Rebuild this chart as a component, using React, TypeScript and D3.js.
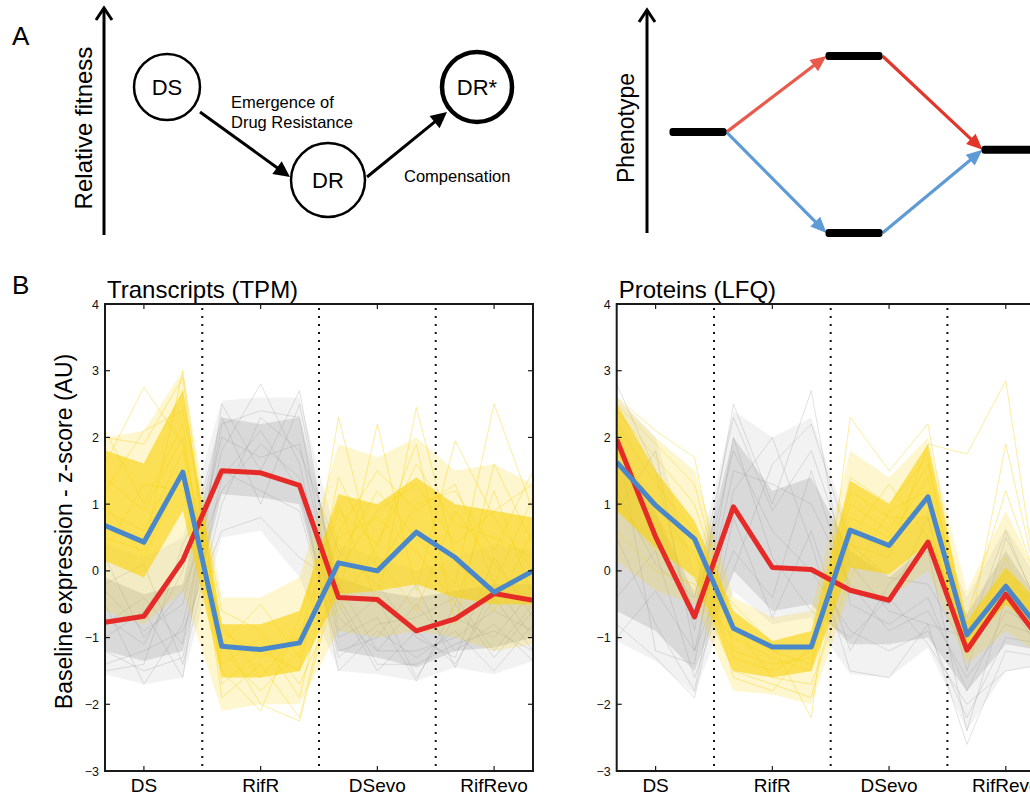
import React from 'react';
import * as d3 from 'd3';

// ---- panel B data (z-scores, 4 conditions x 3 replicates) ----
const conditions = ['DS', 'RifR', 'DSevo', 'RifRevo'];
const yTicks = [-3, -2, -1, 0, 1, 2, 3, 4];

// cluster means
const tpmRed = [-0.77, -0.68, 0.16, 1.5, 1.47, 1.28, -0.4, -0.43, -0.9, -0.72, -0.34, -0.44];
const tpmBlue = [0.68, 0.43, 1.48, -1.13, -1.18, -1.08, 0.12, 0.0, 0.58, 0.2, -0.32, 0.0];
const lfqRed = [1.97, 0.51, -0.69, 0.96, 0.05, 0.02, -0.29, -0.44, 0.43, -1.19, -0.35, -1.13];
const lfqBlue = [1.63, 0.98, 0.48, -0.86, -1.14, -1.14, 0.61, 0.38, 1.11, -0.96, -0.23, -0.97];

// spread of the individual profiles: [outer low, core low, core high, outer high]
const tpmYellowBand = [
  [-0.6, -0.8, -0.3, -2.1, -2.0, -2.0, -0.9, -1.0, -0.9, -1.0, -1.2, -1.1],
  [0.15, -0.1, 0.9, -1.6, -1.6, -1.5, -0.35, -0.3, -0.2, -0.4, -0.5, -0.5],
  [1.8, 1.6, 2.7, -0.8, -0.8, -0.6, 1.15, 1.0, 1.4, 1.0, 0.9, 0.8],
  [2.0, 2.1, 3.0, -0.4, -0.4, -0.1, 1.9, 1.7, 2.0, 1.5, 1.6, 1.3],
];
const tpmGrayBand = [
  [-1.55, -1.7, -1.6, 0.5, 0.6, -0.1, -1.5, -1.55, -1.65, -1.45, -1.55, -1.35],
  [-1.2, -1.35, -1.2, 1.15, 1.1, 1.0, -1.2, -1.3, -1.45, -1.2, -1.15, -1.0],
  [-0.1, -0.35, -0.2, 2.3, 2.2, 2.3, -0.1, -0.3, -0.4, -0.3, -0.2, -0.2],
  [0.4, 0.2, 0.5, 2.55, 2.6, 2.6, 0.4, 0.2, 0.0, 0.2, 0.4, 0.3],
];
const lfqYellowBand = [
  [0.15, -0.3, -0.5, -1.8, -1.85, -2.0, -0.3, -0.4, 0.0, -1.4, -0.9, -1.3],
  [0.9, 0.35, -0.1, -1.5, -1.6, -1.5, 0.05, -0.05, 0.4, -1.15, -0.5, -1.0],
  [2.5, 1.5, 0.75, -0.6, -1.05, -0.9, 1.35, 1.0, 1.9, -0.75, 0.05, -0.55],
  [2.6, 2.0, 1.5, -0.4, -0.7, -0.6, 1.8, 1.4, 2.0, -0.3, 0.9, -0.3],
];
const lfqGrayBand = [
  [-1.05, -1.35, -1.85, -0.3, -0.8, -0.7, -1.55, -1.6, -1.15, -2.4, -1.5, -1.4],
  [-0.6, -0.9, -1.5, 0.0, -0.6, -0.5, -1.1, -1.1, -1.0, -1.8, -1.1, -1.2],
  [1.6, 0.9, -0.35, 2.0, 1.2, 1.4, 0.3, -0.1, 0.4, -0.65, 0.3, -0.6],
  [2.6, 2.0, 0.0, 2.4, 2.0, 2.3, 0.6, 0.4, 0.9, -0.4, 0.65, -0.3],
];

// single profiles traced from the bundles
const tpmYellowLines = [
  [1.6, 2.75, 1.9, -0.9, -1.3, -1.0, 0.9, 0.4, 1.6, 0.7, 0.5, 0.2],
  [2.1, 1.0, 2.2, -1.9, -1.4, -2.2, 0.2, 1.2, 0.5, -0.2, 2.5, 0.9],
  [0.5, 0.3, 3.0, -1.2, -1.8, -1.2, 2.3, 0.0, 1.0, 1.2, 0.3, 1.5],
  [1.2, 2.1, 2.4, -0.6, -0.9, -1.7, -0.4, 2.2, -0.3, 1.95, 0.8, 0.0],
  [0.9, 0.6, 1.8, -1.5, -2.1, -0.7, 1.0, -0.5, 2.45, 0.2, -0.6, 0.6],
  [1.8, 1.6, 2.7, -1.1, -0.5, -1.3, 0.5, 0.8, 0.3, -0.5, 1.2, -0.4],
  [1.4, 0.9, 2.0, -1.4, -1.0, -1.9, 0.6, 1.5, 0.9, 1.3, -0.2, 1.1],
  [0.3, 1.3, 1.2, -0.8, -1.6, -0.9, -0.6, 0.4, 1.9, -0.8, 1.6, 0.4],
  [2.0, 1.9, 2.9, -1.7, -1.2, -1.5, 1.4, 0.2, -0.6, 0.9, 0.1, -0.6],
  [1.0, 0.2, 1.5, -1.0, -2.0, -2.25, 0.0, 0.9, 1.3, 0.4, 0.9, 1.3],
];
const tpmGrayLines = [
  [-0.5, -1.7, -0.8, 1.8, 2.8, 1.6, -1.0, -0.7, -1.65, -0.5, -1.3, -0.6],
  [-1.0, -0.6, -1.6, 2.5, 1.5, 2.7, -0.5, -1.5, -0.9, -1.4, -0.4, -1.2],
  [0.2, -1.0, -0.3, 1.2, 1.9, 1.4, -1.5, -0.9, -1.3, -0.9, -1.5, -0.8],
  [-1.4, -1.2, -0.9, 0.6, 0.8, 0.2, -0.2, -1.2, -0.5, -1.2, -0.8, -1.35],
  [-0.8, -0.4, -1.1, 2.2, 2.4, 2.3, -0.9, -0.4, -1.6, -0.7, -1.0, -0.3],
  [-1.5, -1.4, 0.4, 1.5, 1.2, 0.9, -1.2, -1.0, -0.2, -1.45, -0.2, -1.0],
  [-0.3, -0.9, -0.5, 2.0, 1.7, 1.9, -0.7, -1.2, -1.2, -1.0, -0.6, -0.9],
  [-1.2, -1.5, -1.3, 1.4, 2.1, 1.2, -1.3, -0.8, -0.7, -0.4, -1.2, -0.5],
  [-0.7, -1.1, 0.0, 2.3, 1.0, 2.5, -0.4, -1.4, -1.4, -1.1, -0.9, -1.2],
  [-0.2, 0.1, -1.4, 1.0, 2.3, 1.8, 0.3, -0.2, -1.0, -1.3, 0.2, -0.7],
];
const lfqYellowLines = [
  [2.6, 2.1, 1.7, -1.2, -1.4, -1.3, 0.8, 0.5, 1.4, -0.9, 0.0, -0.8],
  [1.8, 1.0, 0.2, -0.5, -1.1, -2.2, 2.3, 1.5, 2.2, -1.1, 1.9, -0.7],
  [2.2, 1.3, 0.6, -1.6, -1.8, -1.1, 0.4, 0.2, 1.9, 1.75, 2.85, -1.0],
  [1.0, 0.3, -0.3, -1.0, -1.3, -1.5, 1.2, 0.8, 0.8, -1.3, -0.3, -1.2],
  [2.4, 1.7, 1.0, -0.8, -1.6, -1.7, -0.1, 0.9, 1.2, -0.8, -0.5, -0.6],
  [1.5, 0.7, 0.3, -1.3, -1.5, -1.2, 1.0, 0.6, 1.6, -1.0, -0.2, -0.9],
  [2.5, 1.9, 1.3, -0.9, -1.2, -1.4, 1.4, 1.0, 1.7, -1.2, 0.2, -1.1],
  [0.6, 0.0, -0.2, -1.5, -1.7, -1.9, 0.5, 1.3, 0.5, -0.7, 1.2, -0.5],
];
const lfqGrayLines = [
  [2.8, 1.5, -0.9, 2.5, 1.0, 2.7, -0.5, -0.8, -0.4, -1.8, -0.6, -0.9],
  [0.5, -0.8, -1.8, 1.2, 2.0, 0.4, -1.5, -1.6, -0.8, -2.6, -1.2, -1.3],
  [-1.0, -0.3, -1.2, 0.3, -0.4, 1.5, -0.3, -0.5, 0.8, -1.5, 0.5, -0.7],
  [1.6, 0.8, -0.6, 1.8, 0.6, 0.0, -0.9, -1.2, -0.9, -2.2, -1.0, -1.1],
  [-0.4, 0.3, -1.6, 0.0, 1.6, 2.2, 0.4, -0.1, -0.2, -1.2, -0.2, -0.5],
  [2.0, -1.2, -1.4, 2.0, 0.2, -0.6, -1.0, -0.4, -1.1, -2.0, -1.5, -1.4],
  [0.9, 1.8, -1.2, 1.5, 1.3, 1.0, -0.2, -0.9, -0.6, -1.6, -0.8, -1.0],
  [-0.8, -1.3, -1.9, 0.8, -0.7, 0.6, -1.2, -0.2, 0.3, -2.4, -0.4, -1.3],
  [1.2, 0.1, -0.4, 2.3, 0.9, 1.8, 0.1, -0.6, -0.8, -1.0, 0.6, -0.8],
];

// ---- panel A schematic ----
const fitnessStates = ['DS', 'DR', 'DR*'];
const fitnessLevels = [1, 0, 1];
const phenotypeStages = ['ancestor', 'mutant', 'compensated'];
const redPath = [0.57, 1, 0.47];
const bluePath = [0.57, 0, 0.47];

const FONT = "'Liberation Sans', Arial, Helvetica, sans-serif";
const YELLOW = '#f8d20c';
const GRAY = '#9c9c9c';
const RED = '#e52a27';
const BLUE = '#4a88c9';

const arrowHead = (x1: number, y1: number, x2: number, y2: number, len: number, half: number) => {
  const a = Math.atan2(y2 - y1, x2 - x1);
  const bx = x2 - len * Math.cos(a);
  const by = y2 - len * Math.sin(a);
  const px = -Math.sin(a) * half;
  const py = Math.cos(a) * half;
  return { d: `M${x2},${y2}L${bx + px},${by + py}L${bx - px},${by - py}Z`, bx: x2 - (len - 1) * Math.cos(a), by: y2 - (len - 1) * Math.sin(a) };
};

const Arrow = ({ x1, y1, x2, y2, color = '#000', width = 3, len = 14, half = 7 }: any) => {
  const h = arrowHead(x1, y1, x2, y2, len, half);
  return (
    <g>
      <line x1={x1} y1={y1} x2={h.bx} y2={h.by} stroke={color} strokeWidth={width} />
      <path d={h.d} fill={color} />
    </g>
  );
};

const AxisArrow = ({ x, top, bottom }: any) => (
  <g stroke="#000" strokeWidth={3} fill="none">
    <line x1={x} y1={bottom} x2={x} y2={top + 1} />
    <polyline points={`${x - 8},${top + 12} ${x},${top} ${x + 8},${top + 12}`} strokeLinejoin="miter" />
  </g>
);

const FitnessDiagram = () => {
  const fx = d3.scaleOrdinal<string, number>().domain(fitnessStates).range([167, 328, 477]);
  const fy = d3.scaleLinear().domain([0, 1]).range([180, 87]);
  const pos = fitnessStates.map((s, i) => ({ s, x: fx(s), y: fy(fitnessLevels[i]) }));
  const [ds, dr, drs] = pos;
  const radius = [33, 37, 35];
  return (
    <g>
      <text x={12} y={45} fontSize={26}>A</text>
      <AxisArrow x={104} top={8} bottom={235} />
      <text transform="translate(92,128) rotate(-90)" textAnchor="middle" fontSize={24}>Relative fitness</text>
      <Arrow x1={ds.x + 33} y1={ds.y + 25} x2={dr.x - 38} y2={dr.y - 3} width={3} len={16} half={8} />
      <Arrow x1={dr.x + 39} y1={dr.y - 3} x2={drs.x - 30} y2={drs.y + 25} width={3} len={16} half={8} />
      {pos.map((p, i) => (
        <g key={p.s}>
          <circle cx={p.x} cy={p.y} r={radius[i]} fill="#fff" stroke="#000" strokeWidth={i === 2 ? 4.5 : 2.5} />
          <text x={p.x} y={p.y + 8} textAnchor="middle" fontSize={22}>{p.s}</text>
        </g>
      ))}
      <text x={231} y={108} fontSize={16.5}>Emergence of</text>
      <text x={231} y={128} fontSize={16.5}>Drug Resistance</text>
      <text x={404} y={182} fontSize={16.5}>Compensation</text>
    </g>
  );
};

const PhenotypeDiagram = () => {
  const px = d3.scalePoint<string>().domain(phenotypeStages).range([698, 1010]);
  const py = d3.scaleLinear().domain([0, 1]).range([233, 56]);
  const half = 28.5;
  const bars = [
    { x: px('ancestor') as number, y: py(redPath[0]) },
    { x: px('mutant') as number, y: py(redPath[1]) },
    { x: px('mutant') as number, y: py(bluePath[1]) },
    { x: px('compensated') as number, y: py(redPath[2]) },
  ];
  const paths = [
    { vals: redPath, colors: ['#ea5a4c', '#e2362a'] },
    { vals: bluePath, colors: ['#5e9bd6', '#5e9bd6'] },
  ];
  return (
    <g>
      <AxisArrow x={647} top={10} bottom={233} />
      <text transform="translate(634,128) rotate(-90)" textAnchor="middle" fontSize={23}>Phenotype</text>
      {paths.map((p, k) =>
        phenotypeStages.slice(0, -1).map((s, i) => (
          <Arrow
            key={`${k}-${i}`}
            x1={(px(s) as number) + half}
            y1={py(p.vals[i])}
            x2={(px(phenotypeStages[i + 1]) as number) - half + 1}
            y2={py(p.vals[i + 1])}
            color={p.colors[i]}
            width={3.2}
            len={16}
            half={7}
          />
        ))
      )}
      {bars.map((b, i) => (
        <rect key={i} x={b.x - half} y={b.y - 4} width={half * 2} height={8} rx={3} fill="#000" />
      ))}
    </g>
  );
};

const PLOT_TOP = 304;
const PLOT_BOTTOM = 771;
const PLOT_W = 428;

const ProfilePanel = ({ id, left, title, red, blue, yellowBand, grayBand, yellowLines, grayLines, yLabel }: any) => {
  const x = d3.scaleLinear().domain([0, conditions.length * 3 - 1]).range([left, left + PLOT_W]);
  const y = d3.scaleLinear().domain([-3, 4]).range([PLOT_BOTTOM, PLOT_TOP]);
  const line = d3.line<number>().x((_, i) => x(i)).y((d) => y(d));
  const band = (lo: number[], hi: number[]) =>
    d3.area<number>().x((_, i) => x(i)).y0((_, i) => y(lo[i])).y1((d) => y(d))(hi) as string;
  const right = left + PLOT_W;
  const fmt = d3.format('d');
  const centers = conditions.map((_, k) => k * 3 + 1);
  const dividers = conditions.slice(1).map((_, k) => k * 3 + 2.5);
  return (
    <g>
      <defs>
        <clipPath id={id}>
          <rect x={left} y={PLOT_TOP} width={PLOT_W} height={PLOT_BOTTOM - PLOT_TOP} />
        </clipPath>
      </defs>
      <g clipPath={`url(#${id})`}>
        <path d={band(grayBand[0], grayBand[3])} fill={GRAY} opacity={0.13} />
        <path d={band(grayBand[1], grayBand[2])} fill={GRAY} opacity={0.28} />
        {grayLines.map((l: number[], i: number) => (
          <path key={i} d={line(l) as string} fill="none" stroke={GRAY} strokeWidth={1} opacity={0.3} />
        ))}
        <path d={band(yellowBand[0], yellowBand[3])} fill={YELLOW} opacity={0.2} />
        <path d={band(yellowBand[1], yellowBand[2])} fill={YELLOW} opacity={0.62} />
        {yellowLines.map((l: number[], i: number) => (
          <path key={i} d={line(l) as string} fill="none" stroke={YELLOW} strokeWidth={1} opacity={0.4} />
        ))}
        {dividers.map((d) => (
          <line key={d} x1={x(d)} x2={x(d)} y1={PLOT_TOP + 4} y2={PLOT_BOTTOM} stroke="#111" strokeWidth={2} strokeDasharray="2 6" />
        ))}
        <path d={line(red) as string} fill="none" stroke={RED} strokeWidth={5} strokeLinejoin="round" />
        <path d={line(blue) as string} fill="none" stroke={BLUE} strokeWidth={5} strokeLinejoin="round" />
      </g>
      <rect x={left} y={PLOT_TOP} width={PLOT_W} height={PLOT_BOTTOM - PLOT_TOP} fill="none" stroke="#1a1a1a" strokeWidth={2} />
      {yTicks.map((t) => (
        <g key={t}>
          <line x1={left} x2={left + 5} y1={y(t)} y2={y(t)} stroke="#1a1a1a" strokeWidth={1.2} />
          <line x1={right} x2={right - 5} y1={y(t)} y2={y(t)} stroke="#1a1a1a" strokeWidth={1.2} />
          <text x={left - 6} y={y(t) + 4.5} textAnchor="end" fontSize={12.5} fill="#111">{fmt(t)}</text>
        </g>
      ))}
      {centers.map((c, k) => (
        <g key={c}>
          <line x1={x(c)} x2={x(c)} y1={PLOT_TOP} y2={PLOT_TOP + 5} stroke="#1a1a1a" strokeWidth={1.2} />
          <line x1={x(c)} x2={x(c)} y1={PLOT_BOTTOM} y2={PLOT_BOTTOM - 5} stroke="#1a1a1a" strokeWidth={1.2} />
          <text x={x(c)} y={792} textAnchor="middle" fontSize={19}>{conditions[k]}</text>
        </g>
      ))}
      <text x={left + 2} y={298} fontSize={24}>{title}</text>
      {yLabel && (
        <text transform={`translate(${left - 33},${(PLOT_TOP + PLOT_BOTTOM) / 2 - 6}) rotate(-90)`} textAnchor="middle" fontSize={23}>
          {yLabel}
        </text>
      )}
    </g>
  );
};

export default function App() {
  return (
    <svg width={1030} height={796} style={{ position: 'absolute', left: 0, top: 0, background: '#fff' }} fontFamily={FONT}>
      <rect width={1030} height={796} fill="#fff" />
      <FitnessDiagram />
      <PhenotypeDiagram />
      <text x={12} y={294} fontSize={26}>B</text>
      <ProfilePanel
        id="clipTpm"
        left={105}
        title="Transcripts (TPM)"
        red={tpmRed}
        blue={tpmBlue}
        yellowBand={tpmYellowBand}
        grayBand={tpmGrayBand}
        yellowLines={tpmYellowLines}
        grayLines={tpmGrayLines}
        yLabel="Baseline expression - z-score (AU)"
      />
      <ProfilePanel
        id="clipLfq"
        left={616.7}
        title="Proteins (LFQ)"
        red={lfqRed}
        blue={lfqBlue}
        yellowBand={lfqYellowBand}
        grayBand={lfqGrayBand}
        yellowLines={lfqYellowLines}
        grayLines={lfqGrayLines}
      />
    </svg>
  );
}
